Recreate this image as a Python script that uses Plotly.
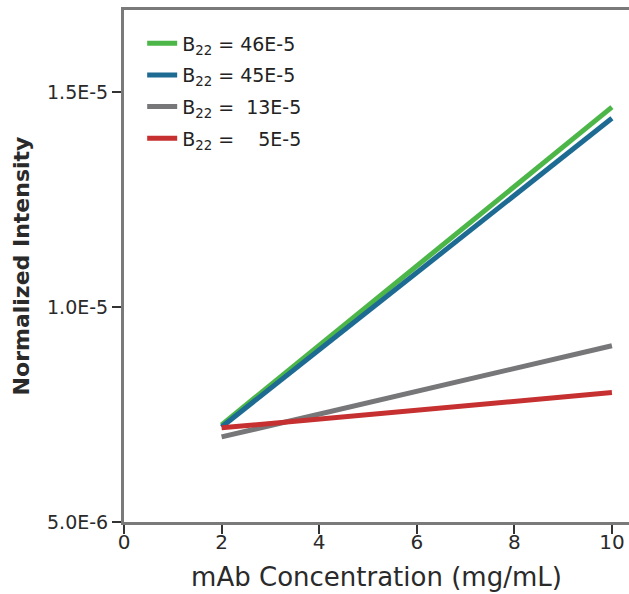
import plotly.graph_objects as go

x_conc = [2, 10]
series_names = ["B<sub>22</sub> = 46E-5", "B<sub>22</sub> = 45E-5",
                "B<sub>22</sub> =\u00a0 13E-5", "B<sub>22</sub> =\u00a0\u00a0\u00a0 5E-5"]
green_vals = [7.26e-6, 1.465e-5]
blue_vals = [7.21e-6, 1.439e-5]
gray_vals = [6.98e-6, 9.10e-6]
red_vals = [7.19e-6, 8.01e-6]
series_colors = ["#4cb648", "#1d6a93", "#77777a", "#c63030"]
y_tickvals = [5e-6, 1e-5, 1.5e-5]
y_ticktext = ["5.0E-6", "1.0E-5", "1.5E-5"]
x_tickvals = [0, 2, 4, 6, 8, 10]

FONT = "DejaVu Sans"
fig = go.Figure()
for i, (name, vals) in enumerate(zip(series_names, [green_vals, blue_vals, gray_vals, red_vals])):
    fig.add_trace(go.Scatter(x=x_conc, y=vals, mode="lines", name=name,
                             legendgroup=str(i),
                             line=dict(color=series_colors[i], width=5)))

axis_col = "#7a7a7a"
fig.update_layout(
    width=629, height=594,
    margin=dict(l=124, r=0, t=10, b=72),
    plot_bgcolor="white", paper_bgcolor="white",
    font=dict(family=FONT, color="#2a2a2a", size=18),
    showlegend=True,
    legend=dict(x=0.036, y=0.972, xanchor="left", yanchor="top",
                font=dict(size=19, color="#222222", family=FONT),
                traceorder="grouped", tracegroupgap=4,
                bgcolor="rgba(0,0,0,0)"),
    xaxis=dict(range=[0, 10.35], tickvals=x_tickvals, showgrid=False, zeroline=False,
               automargin=False,
               showline=True, linecolor=axis_col, linewidth=3, mirror=True,
               ticks="outside", ticklen=9, tickwidth=2, tickcolor="#333333",
               ticklabelstandoff=-9,
               tickfont=dict(size=20, color="#2a2a2a"),
               title=dict(text="mAb Concentration (mg/mL)", standoff=15,
                          font=dict(size=26, color="#2a2a2a"))),
    yaxis=dict(range=[5e-6, 1.691e-5], tickvals=y_tickvals, ticktext=y_ticktext,
               showgrid=False, zeroline=False, automargin=False,
               showline=True, linecolor=axis_col, linewidth=3,
               ticks="outside", ticklen=9, tickwidth=2, tickcolor="#333333",
               tickfont=dict(size=19, color="#2a2a2a"),
               title=dict(text="<b>Normalized Intensity</b>", standoff=12,
                          font=dict(size=22, color="#2a2a2a"))),
)
fig.write_html("out.html", config={"displayModeBar": False},
               post_script="document.body.style.margin='0px';")
